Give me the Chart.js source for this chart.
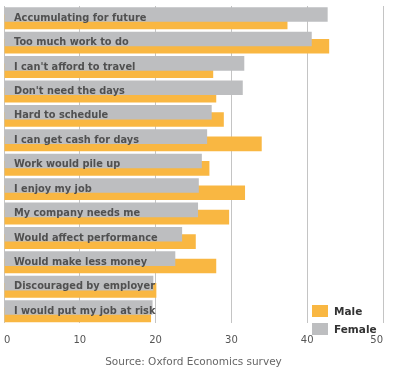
<!DOCTYPE html>
<html>
<head>
<meta charset="utf-8">
<script src="https://cdn.jsdelivr.net/npm/chart.js@4/dist/chart.umd.min.js"></script>
<style>
  html, body { margin: 0; padding: 0; background: #fff; }
  #wrap { position: relative; width: 401px; height: 376px; }
  #legend { position: absolute; left: 312px; top: 302px; font-family: "DejaVu Sans", sans-serif; font-weight: bold; font-size: 10.5px; color: #333; }
  .item { display: flex; align-items: center; height: 18px; }
  .sw { width: 16px; height: 12px; margin-right: 6px; }
</style>
</head>
<body>
<div id="wrap">
  <canvas id="c" width="401" height="376"></canvas>
  <div id="legend"></div>
</div>
<script>
const categories = [
  "Accumulating for future",
  "Too much work to do",
  "I can't afford to travel",
  "Don't need the days",
  "Hard to schedule",
  "I can get cash for days",
  "Work would pile up",
  "I enjoy my job",
  "My company needs me",
  "Would affect performance",
  "Would make less money",
  "Discouraged by employer",
  "I would put my job at risk"
];
const male   = [37.4, 42.9, 27.6, 28.0, 29.0, 34.0, 27.1, 31.8, 29.7, 25.3, 28.0, 20.1, 19.4];
const female = [42.7, 40.6, 31.7, 31.5, 27.4, 26.8, 26.1, 25.7, 25.6, 23.5, 22.6, 19.7, 19.6];
const xTicks = [0, 10, 20, 30, 40, 50];

const ORANGE = '#f9b742';
const GRAY = '#bdbec0';

const legendItems = [["Male", ORANGE], ["Female", GRAY]];
const lg = document.getElementById('legend');
legendItems.forEach(([t, c]) => {
  const d = document.createElement('div'); d.className = 'item';
  const s = document.createElement('span'); s.className = 'sw'; s.style.background = c;
  const l = document.createElement('span'); l.textContent = t;
  d.appendChild(s); d.appendChild(l); lg.appendChild(d);
});

// Category labels drawn inside the plot, over the bars
const innerLabels = {
  id: 'innerLabels',
  afterDatasetsDraw(chart) {
    const ctx = chart.ctx, ys = chart.scales.y, area = chart.chartArea;
    ctx.save();
    ctx.font = 'bold 9.8px "DejaVu Sans"';
    ctx.fillStyle = '#505050';
    ctx.textAlign = 'left';
    ctx.textBaseline = 'middle';
    chart.data.labels.forEach((lab, i) => {
      ctx.fillText(lab, area.left + 10, ys.getPixelForValue(i));
    });
    ctx.restore();
  }
};

new Chart(document.getElementById('c'), {
  type: 'bar',
  data: {
    labels: categories,
    datasets: [
      { label: 'Female', data: female, backgroundColor: GRAY },
      { label: 'Male', data: male, backgroundColor: ORANGE }
    ]
  },
  plugins: [innerLabels],
  options: {
    indexAxis: 'y',
    responsive: false,
    animation: false,
    devicePixelRatio: 1,
    categoryPercentage: 0.6,
    barPercentage: 2.0,
    layout: { padding: { left: 4, right: 18, top: 6, bottom: 7 } },
    plugins: { legend: { display: false }, tooltip: { enabled: false } },
    scales: {
      x: {
        min: 0, max: 50,
        afterBuildTicks: (s) => { s.ticks = xTicks.map(v => ({ value: v })); },
        grid: { color: '#c4c4c4', drawTicks: true, tickLength: 7, tickColor: 'rgba(0,0,0,0)' },
        border: { display: false },
        ticks: { align: 'inner', padding: 4, color: '#555', font: { family: 'DejaVu Sans', size: 10 } },
        title: { display: true, text: 'Source: Oxford Economics survey', color: '#666',
                 font: { family: 'DejaVu Sans', size: 10.5 }, padding: { top: 6, bottom: 0 } }
      },
      y: {
        display: false
      }
    }
  }
});
</script>
</body>
</html>
